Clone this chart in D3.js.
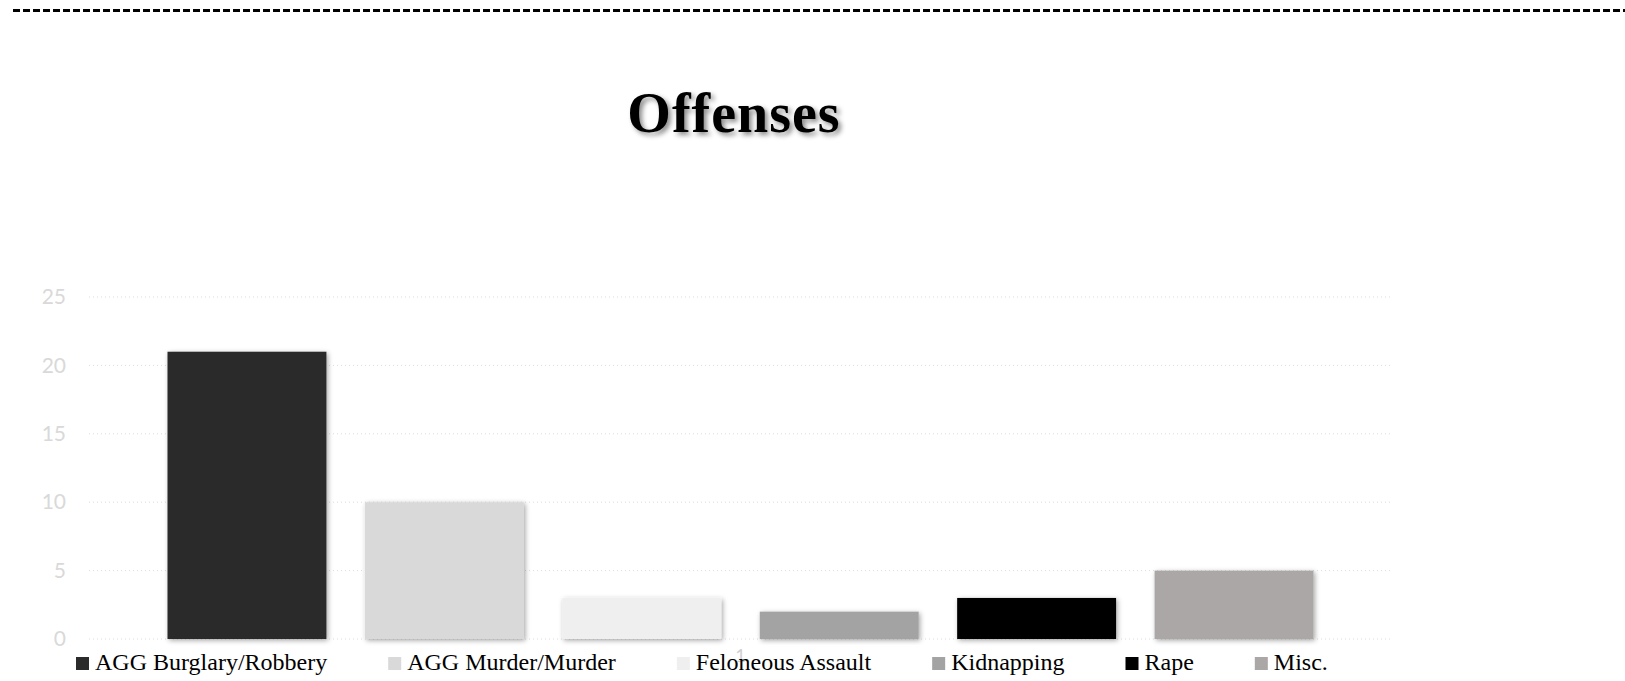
<!DOCTYPE html>
<html>
<head>
<meta charset="utf-8">
<script src="https://cdn.jsdelivr.net/npm/d3@7"></script>
<style>
  body { margin: 0; background: #fff; }
  svg { display: block; }
</style>
</head>
<body>
<div id="chart"></div>
<script>
// Data
const categories = ["1"];
const seriesNames = ["AGG Burglary/Robbery", "AGG Murder/Murder", "Feloneous Assault", "Kidnapping", "Rape", "Misc."];
const seriesValues = [21, 10, 3, 2, 3, 5];
const seriesColors = ["#2b2b2b", "#d9d9d9", "#efefef", "#a3a3a3", "#000000", "#aba7a6"];
const yTicks = [0, 5, 10, 15, 20, 25];

const width = 1625, height = 681;
const margin = {top: 297, right: 233, bottom: 41, left: 89};

const svg = d3.select("#chart")
  .append("svg")
  .attr("width", width)
  .attr("height", height);

// Filters: bar shadow and title shadow
const defs = svg.append("defs");
const barShadow = defs.append("filter").attr("id", "barShadow")
  .attr("x", "-20%").attr("y", "-20%").attr("width", "140%").attr("height", "140%");
barShadow.append("feDropShadow")
  .attr("dx", 1.5).attr("dy", 1.5).attr("stdDeviation", 2.5)
  .attr("flood-color", "#000").attr("flood-opacity", 0.35);
const titleShadow = defs.append("filter").attr("id", "titleShadow")
  .attr("x", "-10%").attr("y", "-30%").attr("width", "120%").attr("height", "160%");
titleShadow.append("feDropShadow")
  .attr("dx", 3).attr("dy", 3).attr("stdDeviation", 2.5)
  .attr("flood-color", "#000").attr("flood-opacity", 0.45);

// Top dashed rule
svg.append("line")
  .attr("x1", 13).attr("x2", width)
  .attr("y1", 10.5).attr("y2", 10.5)
  .attr("stroke", "#000")
  .attr("stroke-width", 3)
  .attr("stroke-dasharray", "7,3");

// Title
svg.append("text")
  .attr("x", 734)
  .attr("y", 132)
  .attr("text-anchor", "middle")
  .attr("font-family", "'Liberation Serif', 'Times New Roman', serif")
  .attr("font-weight", "bold")
  .attr("font-size", "56px")
  .attr("letter-spacing", "1px")
  .attr("filter", "url(#titleShadow)")
  .text("Offenses");

// Scales
const x0 = d3.scaleBand()
  .domain(categories)
  .range([margin.left, width - margin.right])
  .paddingInner(0)
  .paddingOuter(0.0685);
const x1 = d3.scaleBand()
  .domain(seriesNames)
  .range([0, x0.bandwidth()])
  .paddingInner(0.195)
  .paddingOuter(0);
const y = d3.scaleLinear()
  .domain([0, 25])
  .range([height - margin.bottom - 1, margin.top]);

// Gridlines
svg.append("g")
  .selectAll("line")
  .data(yTicks)
  .enter()
  .append("line")
  .attr("x1", margin.left)
  .attr("x2", width - margin.right)
  .attr("y1", d => y(d))
  .attr("y2", d => y(d))
  .attr("stroke", "#dcdcdc")
  .attr("stroke-width", 1)
  .attr("stroke-dasharray", "1,3");

// Y axis labels
const yAxis = svg.append("g")
  .attr("transform", `translate(${margin.left},0)`)
  .call(d3.axisLeft(y).tickValues(yTicks).tickSize(0).tickPadding(23));
yAxis.select(".domain").remove();
yAxis.selectAll("text")
  .attr("font-family", "Lato, 'Open Sans', sans-serif")
  .attr("font-size", "21px")
  .attr("fill", "#d9d9d9");

// Category axis label
const xAxis = svg.append("g")
  .attr("transform", `translate(0,${y(0)})`)
  .call(d3.axisBottom(x0).tickSize(0).tickPadding(10));
xAxis.select(".domain").remove();
xAxis.selectAll("text")
  .attr("font-family", "Lato, 'Open Sans', sans-serif")
  .attr("font-size", "18px")
  .attr("fill", "#d0d0d0");

// Bars
const bars = seriesNames.map((name, i) => ({name, value: seriesValues[i], color: seriesColors[i]}));
svg.append("g")
  .selectAll("rect")
  .data(bars)
  .enter()
  .append("rect")
  .attr("x", d => x0(categories[0]) + x1(d.name))
  .attr("y", d => y(d.value))
  .attr("width", x1.bandwidth())
  .attr("height", d => y(0) - y(d.value))
  .attr("fill", d => d.color)
  .attr("filter", "url(#barShadow)");

// Legend
const legend = svg.append("g")
  .attr("transform", `translate(76, 670)`);
let lx = 0;
bars.forEach(d => {
  const item = legend.append("g").attr("transform", `translate(${lx},0)`);
  item.append("rect")
    .attr("x", 0)
    .attr("y", -13)
    .attr("width", 13)
    .attr("height", 13)
    .attr("fill", d.color);
  const t = item.append("text")
    .attr("x", 19)
    .attr("y", 0)
    .attr("font-family", "'Liberation Serif', 'Times New Roman', serif")
    .attr("font-size", "24px")
    .attr("fill", "#000")
    .text(d.name);
  lx += 19 + t.node().getComputedTextLength() + 61;
});
</script>
</body>
</html>
